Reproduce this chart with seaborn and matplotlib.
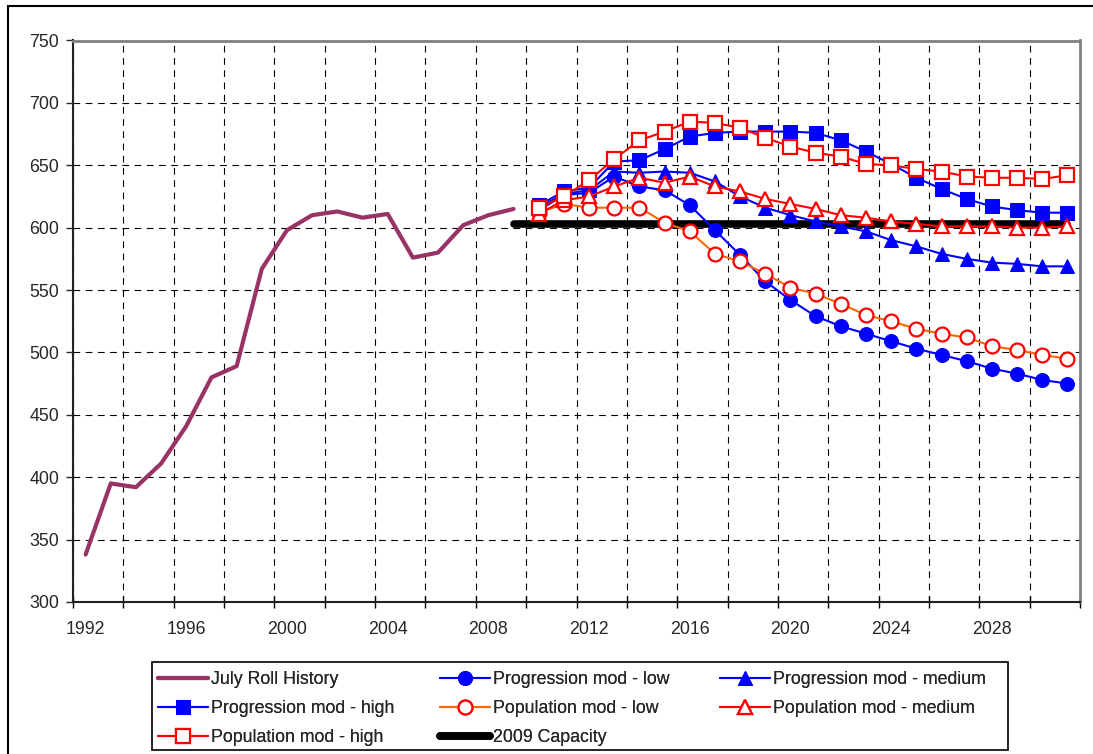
import numpy as np
import matplotlib
matplotlib.use("Agg")
import matplotlib.pyplot as plt
from matplotlib.patches import Rectangle
import seaborn as sns

# history (July roll)
hist_years = list(range(1992, 2010))
hist_roll = [338, 395, 392, 411, 441, 480, 489, 567, 598, 610,
             613, 608, 611, 576, 580, 602, 610, 615]

# forecasts 2010-2031
fc_years = list(range(2010, 2032))
prog_low = [614, 626, 628, 641, 633, 630, 618, 598, 578, 557, 542,
            529, 521, 515, 509, 503, 498, 493, 487, 483, 478, 475]
prog_med = [616, 627, 630, 645, 644, 645, 644, 637, 625, 616, 610,
            605, 601, 597, 590, 585, 579, 575, 572, 571, 569, 569]
prog_high = [618, 629, 632, 653, 654, 663, 673, 676, 677, 677, 677,
             676, 670, 661, 651, 640, 631, 623, 617, 614, 612, 612]
pop_low = [612, 619, 616, 616, 616, 604, 597, 579, 573, 563, 552,
           547, 539, 530, 525, 519, 515, 512, 505, 502, 498, 495]
pop_med = [611, 622, 625, 633, 640, 636, 641, 633, 629, 623, 619,
           615, 610, 608, 605, 603, 601, 601, 601, 600, 600, 601]
pop_high = [616, 625, 638, 655, 670, 677, 685, 684, 680, 672, 665,
            660, 657, 651, 650, 647, 645, 641, 640, 640, 639, 642]

cap_years = list(range(2009, 2032))
capacity = [603] * len(cap_years)

x_labels = [str(y) for y in range(1992, 2029, 4)]
y_ticks = list(range(300, 751, 50))

sns.set_style("white")
plt.rcParams['font.family'] = ['Liberation Sans', 'DejaVu Sans']
FS = 12.8

fig = plt.figure(figsize=(10.93, 7.54), dpi=100)
ax = fig.add_axes([73 / 1093, 1 - 602 / 754, (1080 - 73) / 1093, (602 - 40.5) / 754])

BLUE = "#0000FF"
RED = "#FF0000"
ORANGE = "#FF6600"

sns.lineplot(x=cap_years, y=capacity, color="black", lw=5.5, ax=ax,
             label="2009 Capacity", zorder=2, solid_capstyle="round")
sns.lineplot(x=hist_years, y=hist_roll, color="#993366", lw=3, ax=ax,
             label="July Roll History", zorder=3)
sns.lineplot(x=fc_years, y=prog_low, color=BLUE, lw=1.5, marker="o", ms=10,
             mfc=BLUE, mec=BLUE, ax=ax, label="Progression mod - low", zorder=4)
sns.lineplot(x=fc_years, y=prog_med, color=BLUE, lw=1.5, marker="^", ms=10.5,
             mfc=BLUE, mec=BLUE, ax=ax, label="Progression mod - medium", zorder=4)
sns.lineplot(x=fc_years, y=prog_high, color=BLUE, lw=1.5, marker="s", ms=9.5,
             mfc=BLUE, mec=BLUE, ax=ax, label="Progression mod - high", zorder=4)
sns.lineplot(x=fc_years, y=pop_low, color=ORANGE, lw=1.5, marker="o", ms=10,
             mfc="white", mec=RED, mew=1.6, ax=ax, label="Population mod - low", zorder=5)
sns.lineplot(x=fc_years, y=pop_med, color=RED, lw=1.5, marker="^", ms=10.5,
             mfc="white", mec=RED, mew=1.6, ax=ax, label="Population mod - medium", zorder=5)
sns.lineplot(x=fc_years, y=pop_high, color=RED, lw=1.5, marker="s", ms=9.5,
             mfc="white", mec=RED, mew=1.6, ax=ax, label="Population mod - high", zorder=5)

ax.set_xlim(1991.5, 2031.5)
ax.set_ylim(300, 750)

# x: ticks/grid between categories, labels every 4 years
ax.set_xticks(np.arange(1991.5, 2032, 2))
ax.set_xticklabels([])
ax.set_xticks(range(1992, 2029, 4), minor=True)
ax.set_xticklabels(x_labels, minor=True)
ax.tick_params(axis="x", which="major", direction="inout", length=9, width=1, color="black", bottom=True)
ax.tick_params(axis="x", which="minor", length=0, pad=14, labelsize=FS, bottom=True)

ax.set_yticks(y_ticks)
ax.tick_params(axis="y", direction="out", length=5, width=1, pad=5, labelsize=FS, left=True)

ax.grid(True, which="major", axis="both", color="black", linestyle=(0, (6, 5)), lw=0.8)
ax.set_axisbelow(True)

for side in ["left", "bottom"]:
    ax.spines[side].set_color("#222222")
    ax.spines[side].set_linewidth(1.5)
for side in ["top", "right"]:
    ax.spines[side].set_color("#808080")
    ax.spines[side].set_linewidth(2)

ax.set_xlabel("")
ax.set_ylabel("")

# legend: three fixed-width columns inside one frame
handles, labels = ax.get_legend_handles_labels()
lookup = dict(zip(labels, handles))
columns = [
    (158, ["July Roll History", "Progression mod - high", "Population mod - high"]),
    (440, ["Progression mod - low", "Population mod - low", "2009 Capacity"]),
    (720, ["Progression mod - medium", "Population mod - medium"]),
]
if ax.legend_:
    ax.legend_.remove()
for x0, names in columns:
    lg = fig.legend([lookup[k] for k in names], names, loc="upper left",
                    bbox_to_anchor=(x0 / 1093, 1 - 671 / 754),
                    fontsize=FS, frameon=False, handlelength=2.8,
                    handletextpad=0.2, labelspacing=0.68,
                    borderpad=0, borderaxespad=0)
    fig.add_artist(lg)

fig.add_artist(Rectangle((152 / 1093, 1 - 750 / 754), 856 / 1093, 88 / 754,
                         transform=fig.transFigure, fill=False, lw=1.2, edgecolor="black"))

# chart area border
fig.add_artist(Rectangle((8 / 1093, -0.05), 1.2, 1 - 6 / 754 + 0.05,
                         transform=fig.transFigure, fill=False, lw=1.5, edgecolor="black"))

fig.savefig("out.png", dpi=100)
